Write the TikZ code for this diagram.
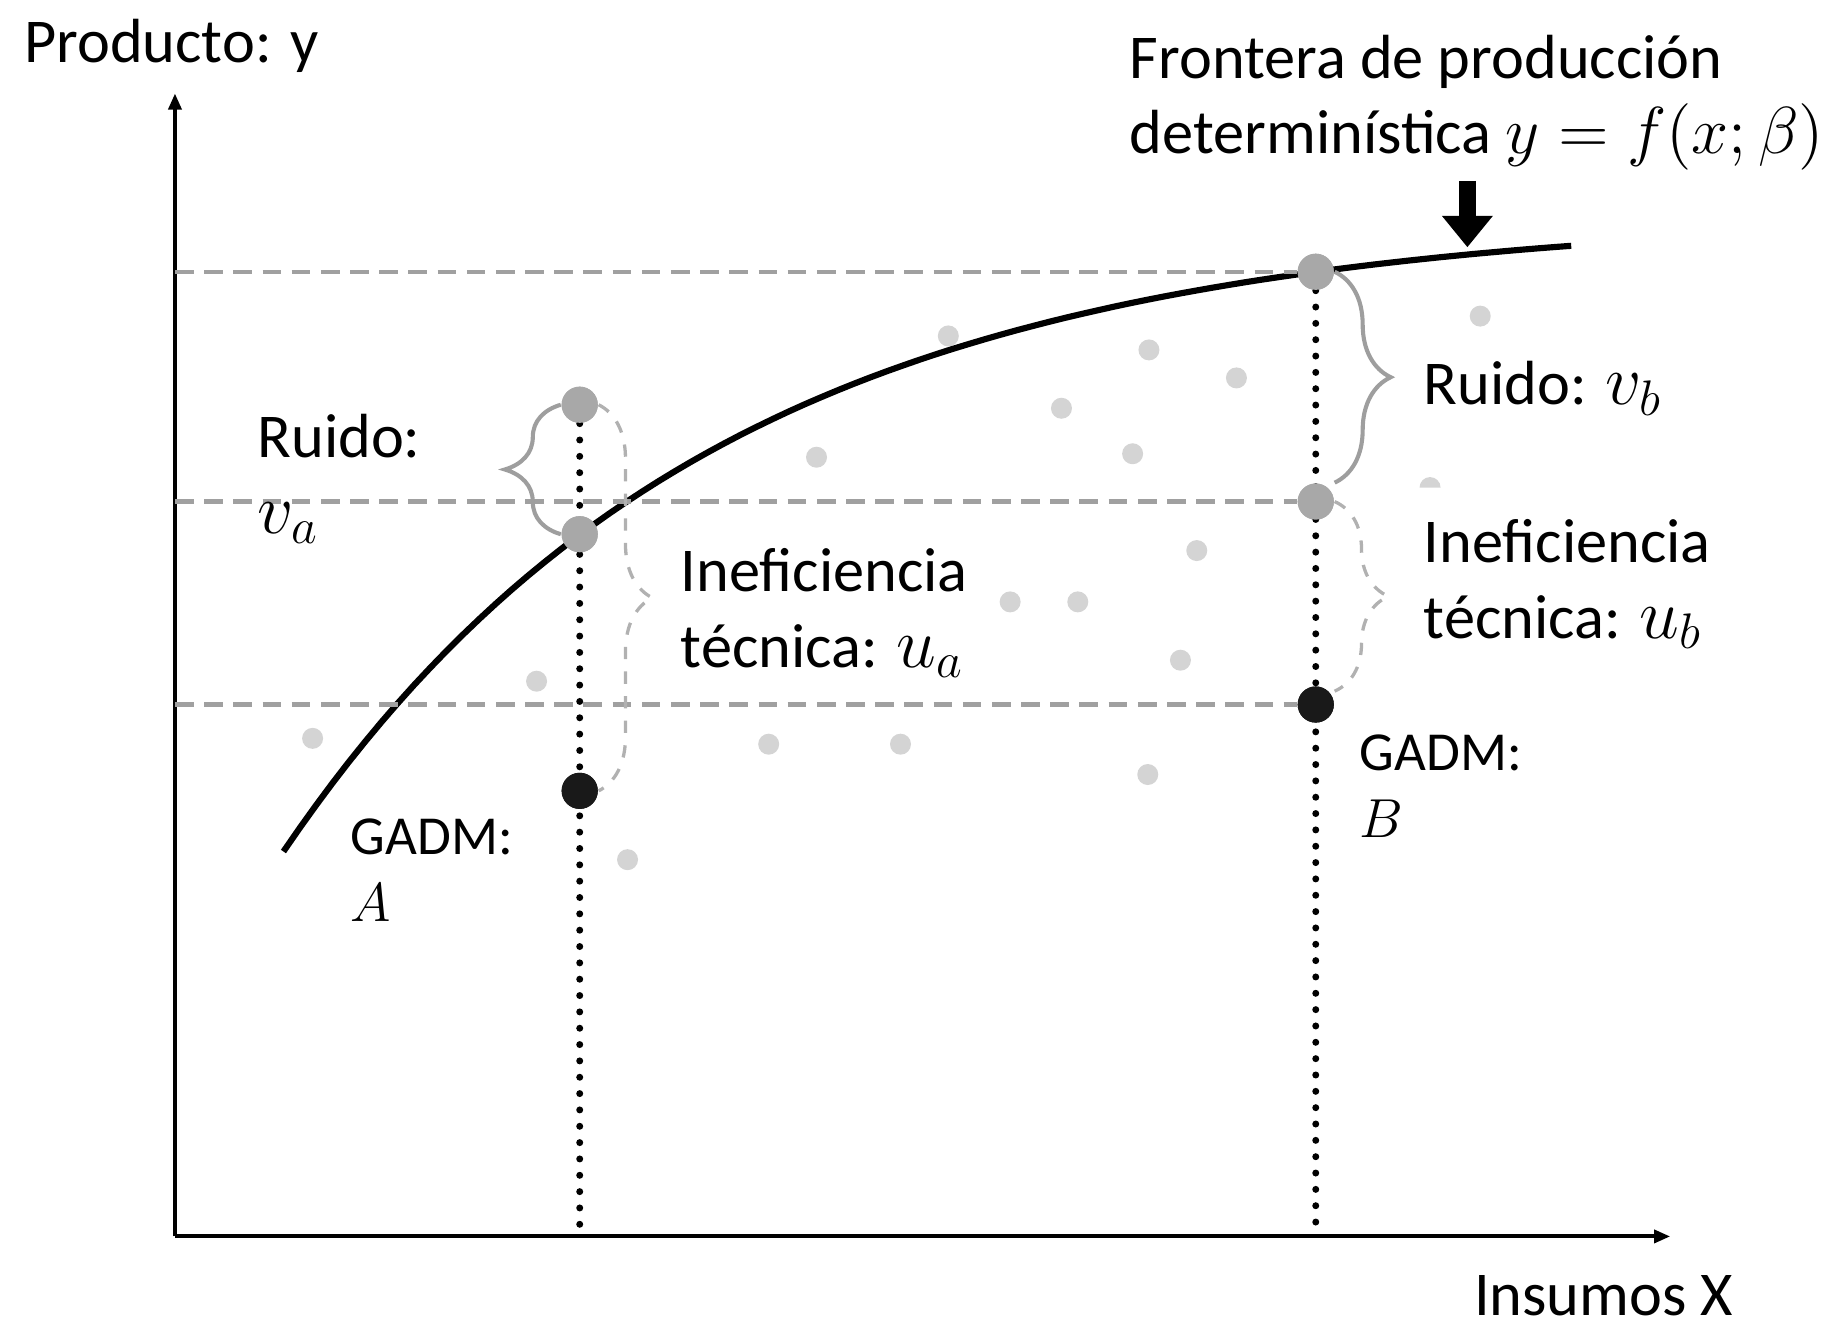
\RequirePackage{fix-cm}
\documentclass[tikz,border=0pt]{standalone}
\usepackage{fontspec}
\setmainfont{Carlito}
\usetikzlibrary{arrows.meta,decorations.pathreplacing,positioning}
\usepackage{xcolor}
\definecolor{dashgray}{RGB}{160,160,160}
\definecolor{dotgray}{RGB}{168,168,168}
\definecolor{scattergray}{RGB}{212,212,212}
\definecolor{bracegray}{RGB}{158,158,158}
\newcommand{\bigmath}[2][17.4]{{\fontsize{#1}{18.5}\selectfont$#2$}}

\begin{document}
\begin{tikzpicture}[x=0.01cm,y=-0.01cm,
  txt/.style={anchor=base west,inner sep=0pt,align=left,
    font=\fontsize{15.2}{18.5}\selectfont},
  smalltxt/.style={anchor=base west,inner sep=0pt,align=left,
    font=\fontsize{13.4}{16.3}\selectfont},
  axis/.style={line width=1pt,-{Triangle[length=0.14cm,width=0.11cm]}},
  frontier/.style={line width=1.5pt},
  guide/.style={dashgray,line width=1.1pt,dash pattern=on 0.16cm off 0.09cm},
  dotline/.style={line width=1.7pt,line cap=round,dash pattern=on 0pt off 0.14cm},
  obs/.style={circle,inner sep=0pt,minimum size=0.31cm,fill=dotgray},
  gadm/.style={circle,inner sep=0pt,minimum size=0.31cm,fill=black!90},
  ruidobrace/.style={draw=bracegray,line width=1pt,
    decorate,decoration={brace,amplitude=0.48cm}},
  inefbrace/.style={draw=bracegray!80,line width=0.8pt,dashed,
    decorate,decoration={brace,amplitude=0.46cm}},
  bigarrow/.style={line width=0.14cm,-{Triangle[width=0.42cm,length=0.27cm]}}]
\useasboundingbox (0,0) rectangle (1568,1140);

% axes
\coordinate (origin) at (150,1060);
\draw[axis] (origin) -- (150,80);
\draw[axis] (origin) -- (1432,1060);
\node[txt] (ylabel) at (20,54) {Producto: y};
\node[txt] (xlabel) at (1263,1128) {Insumos X};

% observed firms
\foreach \px/\py in {813/288,985/300,1060/324,910/350,700/392,971/389,
  1269/271,1026/472,866/516,924/516,1012/566,460/584,268/633,659/638,
  772/638,984/664,538/737}
  \fill[scattergray] (\px,\py) circle[radius=0.09cm];
\fill[scattergray] (1217,418) arc[start angle=180,end angle=360,radius=9] -- cycle;

% frontier
\draw[frontier] plot[domain=243:1347,samples=80]
  (\x,{183+547*exp(-0.002704*(\x-243))});

\node[obs] (topA) at (497,347) {};
\node[obs] (midA) at (497,458) {};
\node[gadm] (gadmA) at (497,678) {};
\node[obs] (topB) at (1128,233) {};
\node[obs] (midB) at (1128,430) {};
\node[gadm] (gadmB) at (1128,604) {};

\draw[guide] (origin |- topB) -- (topB.west);
\draw[guide] (origin |- midB) -- (midB.west);
\draw[guide] (origin |- gadmB) -- (gadmB.west);
\draw[dotline] (topA.south) -- (topA |- origin);
\draw[dotline] (topB.south) -- (topB |- origin);
\path (topA) node[obs] {} (midA) node[obs] {} (gadmA) node[gadm] {}
  (topB) node[obs] {} (midB) node[obs] {} (gadmB) node[gadm] {};

% braces
\draw[ruidobrace] (midA.west) -- (topA.west);
\draw[inefbrace] (topA.east) -- (gadmA.east);
\draw[ruidobrace] (topB.east) -- (topB.east |- midB.north);
\draw[inefbrace] (midB.east) -- (midB.east |- gadmB.north east);

% labels (base = last line)
\node[txt] (title) at (968,132)
  {Frontera de producción\\determinística \bigmath[16.2]{y=f(x;\beta)}};
\coordinate (peak) at (1258,212);
\draw[bigarrow] (1258,155) -- (peak);
\node[txt] (ruidoA) at (220,457) {Ruido:\\\bigmath{v_a}};
\node[txt] (inefA) at (583,572) {Ineficiencia\\técnica: \bigmath{u_a}};
\node[txt] (ruidoB) at (1220,347) {Ruido: \bigmath{v_b}};
\node[txt] (inefB) at (1220,547) {Ineficiencia\\técnica: \bigmath{u_b}};
\node[smalltxt] (labA) at (300,790) {GADM:\\$A$};
\node[smalltxt] (labB) at (1165,718) {GADM:\\$B$};
\end{tikzpicture}
\end{document}
